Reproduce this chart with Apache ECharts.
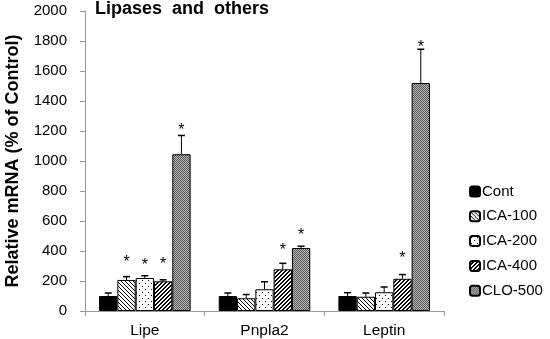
<!DOCTYPE html>
<html><head><meta charset="utf-8">
<script src="https://cdn.jsdelivr.net/npm/echarts@6/dist/echarts.min.js"></script>
<style>html,body{margin:0;padding:0;background:#fff}#c{width:550px;height:339px}</style>
</head><body><div id="c"></div>
<script>
const categories = ['Lipe', 'Pnpla2', 'Leptin'];
const seriesNames = ['Cont', 'ICA-100', 'ICA-200', 'ICA-400', 'CLO-500'];
const contValues   = [100, 100, 100];
const ica100Values = [207, 85, 95];
const ica200Values = [220, 145, 125];
const ica400Values = [198, 278, 215];
const clo500Values = [1045, 420, 1520];
const contErr   = [20, 20, 22];
const ica100Err = [22, 25, 25];
const ica200Err = [15, 50, 35];
const ica400Err = [10, 40, 28];
const clo500Err = [125, 12, 225];
// y value at which each asterisk sits (null = no asterisk)
const contStar   = [null, null, null];
const ica100Star = [355, null, null];
const ica200Star = [335, null, null];
const ica400Star = [340, 433, 380];
const clo500Star = [1233, 533, 1787];
const yTicks = [0, 200, 400, 600, 800, 1000, 1200, 1400, 1600, 1800, 2000];

const values = [contValues, ica100Values, ica200Values, ica400Values, clo500Values];
const errs = [contErr, ica100Err, ica200Err, ica400Err, clo500Err];
const stars = [contStar, ica100Star, ica200Star, ica400Star, clo500Star];

function mk(w, h, draw) {
  const c = document.createElement('canvas'); c.width = w; c.height = h;
  const g = c.getContext('2d'); g.fillStyle = '#fff'; g.fillRect(0, 0, w, h);
  draw(g); return c;
}
const patBack = mk(4, 4, g => { g.fillStyle = '#000'; for (let i = 0; i < 4; i++) g.fillRect(i, i, 1, 1); });
const patDots = mk(6, 6, g => { g.fillStyle = '#000'; g.fillRect(1, 1, 1, 1); g.fillRect(4, 4, 1, 1); });
const patFwd = mk(4, 4, g => { g.fillStyle = '#000'; for (let i = 0; i < 4; i++) { g.fillRect(3 - i, i, 1, 1); g.fillRect((4 - i) % 4, i, 1, 1); } });
const patChk = mk(2, 2, g => { g.fillStyle = '#555'; g.fillRect(0, 0, 1, 1); g.fillRect(1, 1, 1, 1); g.fillStyle = '#bbb'; g.fillRect(1, 0, 1, 1); g.fillRect(0, 1, 1, 1); });
const fills = ['#000', { image: patBack, repeat: 'repeat' }, { image: patDots, repeat: 'repeat' }, { image: patFwd, repeat: 'repeat' }, { image: patChk, repeat: 'repeat' }];

const BW = 0.153;
const font = '"Liberation Sans", Arial, sans-serif';
const series = [];
seriesNames.forEach((n, i) => {
  series.push({
    name: n, type: 'bar', data: values[i], barWidth: (BW * 100) + '%', barGap: '0%',
    itemStyle: { color: fills[i], borderColor: '#000', borderWidth: 1 }, z: 2
  });
});
seriesNames.forEach((n, i) => {
  series.push({
    type: 'custom', name: n + '_err', z: 3, silent: true,
    data: values[i].map((v, k) => [k, v, errs[i][k], stars[i][k] == null ? -1 : stars[i][k]]),
    encode: { x: 0, y: 1 },
    renderItem: function (params, api) {
      const k = api.value(0), v = api.value(1), e = api.value(2), s = api.value(3);
      const band = api.size([1, 0])[0];
      const w = band * BW;
      const cx = api.coord([k, 0])[0] + (i - 2) * w;
      const p0 = api.coord([k, v])[1];
      const p1 = api.coord([k, v + e])[1];
      const ch = [
        { type: 'line', shape: { x1: cx, y1: p0, x2: cx, y2: p1 }, style: { stroke: '#000', lineWidth: 1 } },
        { type: 'line', shape: { x1: cx - 3.5, y1: p1, x2: cx + 3.5, y2: p1 }, style: { stroke: '#000', lineWidth: 1.5 } }
      ];
      if (s >= 0) {
        const sy = api.coord([k, s])[1];
        ch.push({ type: 'text', style: { text: '*', x: cx, y: sy + 4.5, align: 'center', verticalAlign: 'middle', font: '16px ' + font, fill: '#000' } });
      }
      return { type: 'group', children: ch };
    }
  });
});

const chart = echarts.init(document.getElementById('c'));
chart.setOption({
  animation: false,
  title: { text: 'Lipases  and  others', left: 95, top: 0, padding: 0, textStyle: { fontFamily: font, fontWeight: 'bold', fontSize: 18, color: '#000' } },
  legend: {
    data: seriesNames, orient: 'vertical', left: 469, top: 184, padding: 0, itemWidth: 10, itemHeight: 10, itemGap: 9.8,
    textStyle: { fontFamily: font, fontSize: 15, lineHeight: 15, color: '#000', padding: [0, 0, 0, -3] }
  },
  grid: { left: 85, right: 106, top: 11, bottom: 28, containLabel: false, outerBoundsMode: 'none' },
  xAxis: {
    type: 'category', data: categories,
    axisLine: { lineStyle: { color: '#999', width: 1 } },
    axisTick: { show: true, length: 5, lineStyle: { color: '#999' } },
    axisLabel: { fontFamily: font, fontSize: 15.5, color: '#000', margin: 12 }
  },
  yAxis: {
    type: 'value', min: 0, max: 2000, interval: 200,
    name: 'Relative mRNA (% of Control)', nameLocation: 'middle', nameGap: 63,
    nameTextStyle: { fontFamily: font, fontWeight: 'bold', fontSize: 18, color: '#000' },
    axisLine: { show: true, lineStyle: { color: '#999', width: 1 } },
    axisTick: { show: true, length: 5, lineStyle: { color: '#999' } },
    axisLabel: { fontFamily: font, fontSize: 15, color: '#000', margin: 18,
      formatter: v => yTicks.indexOf(v) >= 0 ? String(v) : '' },
    splitLine: { show: false }
  },
  series: series
});
</script></body></html>
